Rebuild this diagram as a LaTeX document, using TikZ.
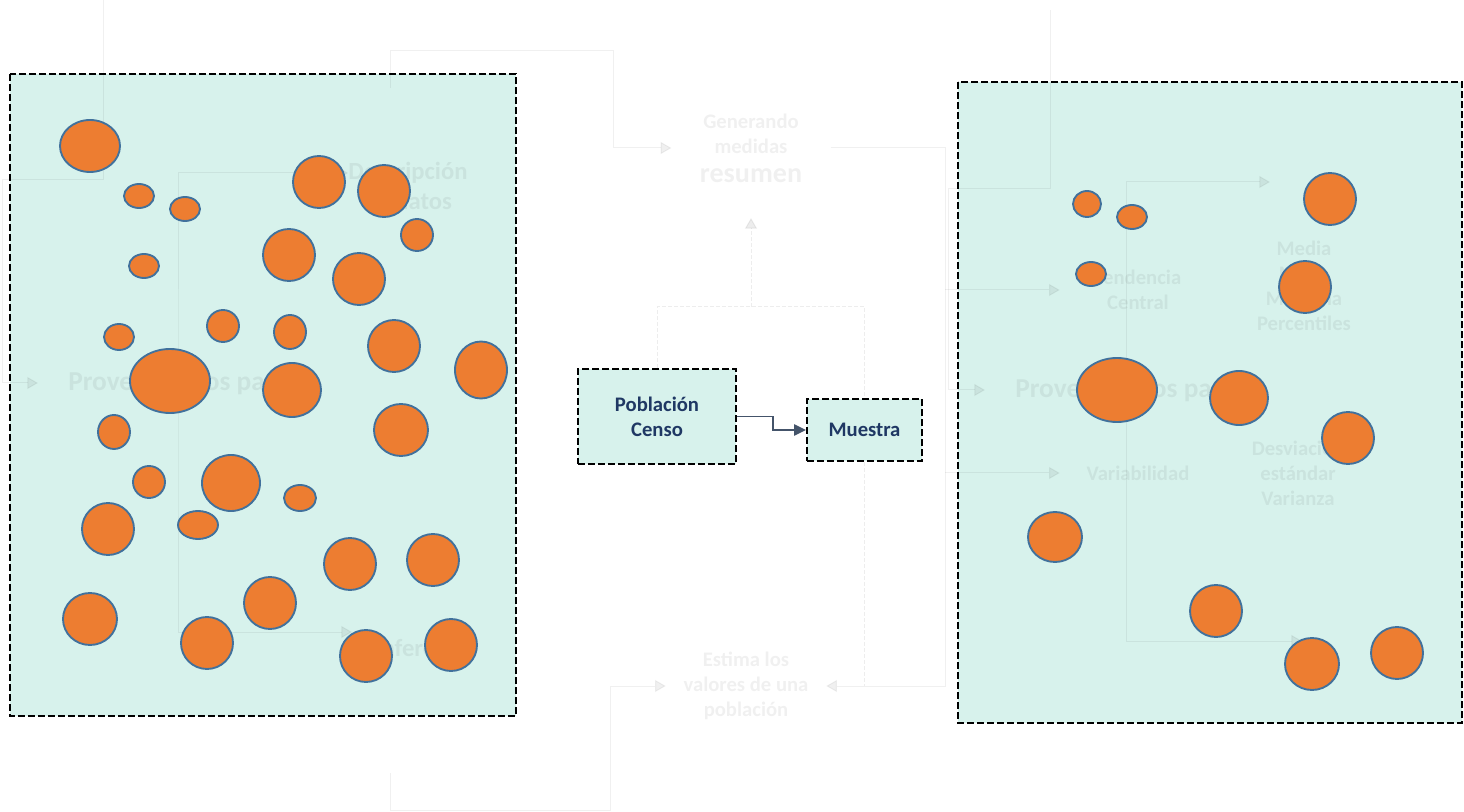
\documentclass[tikz,border=0pt]{standalone}
\usepackage{fontspec}
\setmainfont{Carlito}
\newfontfamily\letragrande[Scale=1.36]{Carlito}
\usepackage{tikz}
\usetikzlibrary{arrows.meta}
\definecolor{panelfondo}{HTML}{D7F2EC}
\definecolor{naranja}{HTML}{ED7D31}
\definecolor{bordeazul}{HTML}{41719C}
\definecolor{textoazul}{HTML}{1F3864}
\definecolor{flechagris}{HTML}{44546A}
\tikzset{
	panel/.style={draw=black, fill=panelfondo, line width=1.5pt, dash pattern=on 5pt off 2.5pt},
	caja/.style={rectangle, draw=black, fill=panelfondo, line width=1.5pt, dash pattern=on 5pt off 2.5pt, text=textoazul, align=center, font=\bfseries\fontsize{15.5pt}{18.75pt}\selectfont},
	bola/.style={draw=bordeazul, fill=naranja, line width=1.4pt},
	flecha/.style={draw=flechagris, line width=1.1pt, -{Triangle[length=9pt,width=8.5pt]}},
	fantasma/.style={draw=black, opacity=0.06, line width=0.75pt},
	fantasmaflecha/.style={fantasma, -{Triangle[length=8pt,width=9pt]}},
	fantasmarayas/.style={draw=black, opacity=0.07, line width=0.75pt, dash pattern=on 3pt off 1.5pt},
	fantasmatexto/.style={text=black, text opacity=0.06, inner sep=0pt, align=center, font=\bfseries\fontsize{15.5pt}{18.75pt}\selectfont},
	fantasmagrande/.style={fantasmatexto, font=\bfseries\fontsize{18.5pt}{22.5pt}\selectfont},
	fantasmaprov/.style={fantasmatexto, anchor=west, inner xsep=22.5pt, font=\bfseries\fontsize{20.5pt}{24pt}\selectfont}
}
\begin{document}
\begin{tikzpicture}[x=0.75pt,y=-0.75pt]
	\useasboundingbox (0,0) rectangle (1464,812);
	\draw[panel] (10,74) rectangle (516,716);
	\draw[panel] (958,82) rectangle (1462,723);
	
	\coordinate (izqarriba) at (103,0);
	\coordinate (izqcentro) at (178,403);
	\coordinate (derarriba) at (1050,10);
	\coordinate (dercentro) at (1126,410);
	\coordinate (derpunta1) at (1270,182);
	\coordinate (derpunta2) at (1302,641);
	\coordinate (arribaizq) at (390,88);
	\coordinate (abajoizq) at (390,773);
	\coordinate (ramal) at (945,400);
	\coordinate (cruce) at (751,307);
	\coordinate (puntaresu) at (751,218);
	
	\node[fantasmaprov] (prov1) at (38,383) {Proveen datos para};
	\node[fantasmagrande] (desc) at (408,186) {Descripción\\de datos};
	\node[fantasmagrande, anchor=west, inner xsep=17pt] (infe) at (352,648) {Inferencia};
	\node[fantasmatexto, minimum width=119pt] (resu) at (751,148) {Generando\\medidas\\[3pt]{\letragrande\bfseries resumen}};
	\node[fantasmatexto, minimum width=120pt] (esti) at (746,686) {Estima los\\valores de una\\población};
	\node[fantasmaprov] (prov2) at (985,390) {Proveen datos para};
	\node[fantasmatexto, minimum width=117pt] (tend) at (1138,290) {Tendencia\\Central};
	\node[fantasmatexto, minimum width=117pt] (vari) at (1138,473) {Variabilidad};
	\node[fantasmatexto] (medi) at (1304,286) {Media\\Moda\\Mediana\\Percentiles};
	\node[fantasmatexto] (desv) at (1298,473) {Desviación\\estándar\\Varianza};
	
	\draw[fantasmaflecha] (izqarriba) -- ++(0,180) -- ++(-101,0) |- (prov1.west);
	\draw[fantasma, {Triangle[length=8pt,width=9pt]}-{Triangle[length=8pt,width=9pt]}] ([yshift=9.75pt]desc.west) -| (izqcentro) |- ([yshift=12pt]infe.west);
	\draw[fantasmaflecha] (arribaizq) -- ++(0,-37) -- ++(223,0) |- (resu.west);
	\draw[fantasmaflecha] (abajoizq) -- ++(0,37) -- ++(220,0) |- (esti.west);
	\draw[fantasmaflecha] (resu.east) -| (ramal) |- (esti.east);
	\draw[fantasmaflecha] (ramal |- tend.west) -- (tend.west);
	\draw[fantasmaflecha] (ramal |- vari.west) -- (vari.west);
	\draw[fantasmaflecha] (derarriba) -- ++(0,179) -- ++(-102,0) |- (prov2.west);
	\draw[fantasma, {Triangle[length=8pt,width=9pt]}-{Triangle[length=8pt,width=9pt]}] (derpunta1) -| (dercentro) |- (derpunta2);
	
	\draw[bola] (90,146) ellipse (30 and 26);
	\draw[bola] (139,196) ellipse (15 and 12);
	\draw[bola] (185,209) ellipse (15 and 12);
	\draw[bola] (319,182) ellipse (26 and 26);
	\draw[bola] (384,191) ellipse (26 and 26);
	\draw[bola] (417,235) ellipse (16 and 16);
	\draw[bola] (144,266) ellipse (15 and 12);
	\draw[bola] (289,255) ellipse (26 and 26);
	\draw[bola] (359,279) ellipse (26 and 26);
	\draw[bola] (119,337) ellipse (15 and 13);
	\draw[bola] (223,326) ellipse (16 and 16);
	\draw[bola] (290,332) ellipse (16 and 17);
	\draw[bola] (394,346) ellipse (26 and 26);
	\draw[bola] (481,370) ellipse (26 and 28.5);
	\draw[bola] (170,381) ellipse (40 and 32);
	\draw[bola] (292,390) ellipse (29 and 27);
	\draw[bola] (114,432) ellipse (16 and 17);
	\draw[bola] (401,430) ellipse (27 and 26);
	\draw[bola] (149,482) ellipse (16 and 16);
	\draw[bola] (231,483) ellipse (29 and 28);
	\draw[bola] (300,498) ellipse (16 and 13);
	\draw[bola] (108,529) ellipse (26 and 26);
	\draw[bola] (198,525) ellipse (20 and 14);
	\draw[bola] (350,564) ellipse (26 and 26);
	\draw[bola] (433,560) ellipse (26 and 26);
	\draw[bola] (270,603) ellipse (26 and 26);
	\draw[bola] (90,619) ellipse (27 and 26);
	\draw[bola] (207,643) ellipse (26 and 26);
	\draw[bola] (366,656) ellipse (26 and 26);
	\draw[bola] (451,645) ellipse (26 and 26);
	
	\draw[bola] (1087,204) ellipse (14 and 13);
	\draw[bola] (1132,217) ellipse (15 and 12);
	\draw[bola] (1330,199) ellipse (26 and 26);
	\draw[bola] (1091,274) ellipse (15 and 12);
	\draw[bola] (1305,287) ellipse (26 and 26);
	\draw[bola] (1117,390) ellipse (40 and 32);
	\draw[bola] (1239,398) ellipse (29 and 27);
	\draw[bola] (1348,438) ellipse (26 and 26);
	\draw[bola] (1055,537) ellipse (27 and 25);
	\draw[bola] (1216,611) ellipse (26 and 26);
	\draw[bola] (1312,664) ellipse (27 and 26);
	\draw[bola] (1397,653) ellipse (26 and 26);
	
	\node[caja, minimum width=118.5pt, minimum height=71.25pt] (pob) at (657,416.5) {Población\\Censo};
	\node[caja, minimum width=86.25pt, minimum height=46.5pt] (mue) at (864.5,430) {Muestra};
	\draw[fantasmarayas] (pob.north) |- (cruce) -| (mue.north);
	\draw[fantasmarayas, -{Triangle[length=8pt,width=9pt]}] (cruce) -- (puntaresu);
	\draw[fantasmarayas] (mue.south) -- (mue.south |- esti.east);
	\draw[flecha] (pob.east) -- ++(36,0) |- (mue.west);
\end{tikzpicture}
\end{document}
